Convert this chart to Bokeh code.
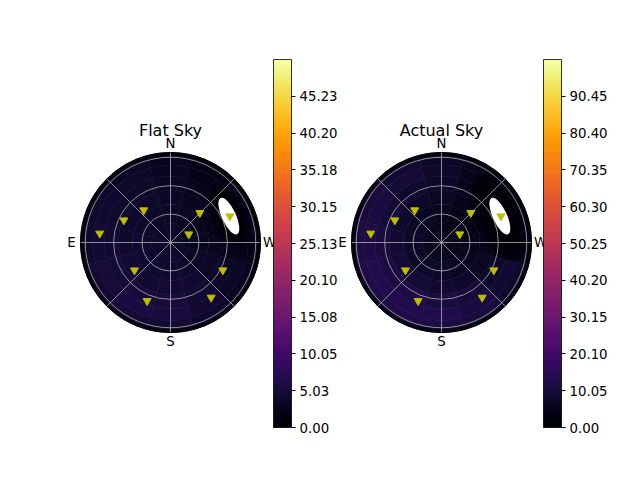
import numpy as np
from bokeh.plotting import figure
from bokeh.models import (ColumnDataSource, LinearColorMapper, ColorBar, FixedTicker,
                          PrintfTickFormatter, Range1d)
from bokeh.palettes import Inferno256
from bokeh.transform import transform
from bokeh.core.properties import value
from bokeh.embed import file_html
from bokeh.resources import INLINE

# ---------------- data ----------------
titles = ["Flat Sky", "Actual Sky"]
cbar_max = [50.26, 100.5]
flat_ticks = [0.00, 5.03, 10.05, 15.08, 20.10, 25.13, 30.15, 35.18, 40.20, 45.23]
actual_ticks = [0.00, 10.05, 20.10, 30.15, 40.20, 50.25, 60.30, 70.35, 80.40, 90.45]

# sky brightness cells: azimuth sector centres (deg, N->E) and zenith-angle ring edges (deg)
az_centers = [0, 30, 60, 90, 120, 150, 180, 210, 240, 270, 300, 330]
zen_edges = [0, 20, 40, 55, 70, 82, 91, 95]

flat_sky = [
    [3.6, 3.7, 3.8, 3.9, 4.0, 4.0, 4.0, 3.9, 3.7, 3.4, 3.3, 3.4],
    [3.6, 3.8, 3.9, 4.0, 4.2, 4.3, 4.3, 4.1, 3.7, 3.1, 2.8, 3.2],
    [3.5, 3.8, 4.0, 4.2, 4.5, 4.7, 4.7, 4.4, 3.7, 2.8, 2.2, 2.8],
    [3.3, 3.8, 4.1, 4.4, 4.8, 5.2, 5.1, 4.6, 3.6, 2.4, 1.5, 2.4],
    [3.1, 3.8, 4.2, 4.6, 5.1, 5.6, 5.4, 4.7, 3.4, 2.2, 1.4, 2.1],
    [2.8, 3.4, 3.8, 4.1, 4.5, 4.8, 4.7, 4.1, 3.0, 2.0, 1.4, 1.9],
    [1.2, 1.4, 1.5, 1.6, 1.7, 1.8, 1.8, 1.6, 1.3, 1.0, 0.8, 0.9],
]
actual_sky = [
    [5.0, 5.2, 5.4, 5.5, 5.6, 5.6, 5.5, 5.3, 5.0, 4.6, 4.4, 4.6],
    [5.6, 6.2, 6.8, 7.2, 7.5, 7.5, 7.2, 6.6, 5.6, 4.6, 4.0, 4.6],
    [6.4, 7.4, 8.4, 9.2, 9.8, 9.8, 9.4, 8.4, 6.6, 4.8, 3.6, 4.8],
    [7.2, 8.6, 9.8, 10.8, 11.6, 11.8, 11.2, 10.0, 7.8, 5.0, 3.0, 5.0],
    [7.8, 9.6, 11.0, 12.2, 13.0, 13.2, 12.6, 11.2, 8.8, 5.6, 3.2, 5.4],
    [7.4, 9.2, 10.6, 11.6, 12.4, 12.6, 12.0, 10.6, 8.4, 5.6, 3.4, 5.2],
    [3.0, 3.6, 4.0, 4.4, 4.6, 4.8, 4.6, 4.2, 3.4, 2.4, 1.6, 2.2],
]

# moon (masked region) and its dark halo levels
moon_zen, moon_az = 67.6, 294.4
moon_radial, moon_tangential = 15.0, 42.0
flat_halo_vals = [2.2, 1.2, 0.5]
flat_halo_radial = [46, 36, 26]
flat_halo_tangential = [82, 66, 54]
actual_halo_vals = [3.0, 1.6, 0.6]
actual_halo_radial = [52, 40, 28]
actual_halo_tangential = [100, 80, 60]

# targets (zenith angle, azimuth)
target_zen = [75.3, 54.6, 44.3, 44.0, 68.5, 21.2, 48.0, 62.5, 66.4, 72.2]
target_az = [82.7, 64.5, 39.6, 315.3, 293.9, 294.4, 127.6, 242.1, 158.2, 216.5]

cardinal_labels = ["N", "E", "S", "W"]
cardinal_az = [0, 90, 180, 270]
grid_zen = [30, 60, 90]
spoke_az = [0, 45, 90, 135, 180, 225, 270, 315]
horizon_zen = 95

# ---------------- layout ----------------
W, H = 640, 480
s = 90.0 / horizon_zen          # px per degree
centers_px = [(170, 242), (441, 242)]
span_x = W / s
span_y = H / s
y_top = centers_px[0][1] / s

p = figure(width=W, height=H, output_backend="svg", toolbar_location=None,
           x_axis_location=None, y_axis_location=None, min_border=0,
           x_range=Range1d(-centers_px[0][0] / s, -centers_px[0][0] / s + span_x),
           y_range=Range1d(y_top - span_y, y_top))
p.extra_x_ranges = {"actual": Range1d(-centers_px[1][0] / s, -centers_px[1][0] / s + span_x)}
p.xgrid.grid_line_color = None
p.ygrid.grid_line_color = None
p.outline_line_color = None
p.background_fill_color = "white"
p.border_fill_color = "white"


def pol(zen, az):
    th = np.radians(90.0 + np.asarray(az, dtype=float))
    z = np.asarray(zen, dtype=float)
    return z * np.cos(th), z * np.sin(th)


panels = [
    ("default", flat_sky, flat_ticks, flat_halo_vals, flat_halo_radial, flat_halo_tangential),
    ("actual", actual_sky, actual_ticks, actual_halo_vals, actual_halo_radial, actual_halo_tangential),
]
cb_x = [273, 543]

for i, (rng, sky, ticks, hv, hr, ht) in enumerate(panels):
    mapper = LinearColorMapper(palette=Inferno256, low=0, high=cbar_max[i])
    # cells
    inner, outer, a0, a1, vals = [], [], [], [], []
    for r in range(len(zen_edges) - 1):
        for c, az in enumerate(az_centers):
            inner.append(zen_edges[r]); outer.append(zen_edges[r + 1])
            a0.append(np.radians(90 + az - 15)); a1.append(np.radians(90 + az + 15))
            vals.append(sky[r][c])
    src = ColumnDataSource(dict(x=[0] * len(vals), y=[0] * len(vals), ir=inner, orr=outer,
                                a0=a0, a1=a1, val=vals))
    p.annular_wedge(x="x", y="y", inner_radius="ir", outer_radius="orr",
                    start_angle="a0", end_angle="a1", source=src,
                    fill_color=transform("val", mapper), line_color=transform("val", mapper),
                    line_width=0.6, x_range_name=rng)
    # halo around the moon
    mx, my = pol([moon_zen], [moon_az])
    ang = float(np.radians(90 + moon_az))
    hsrc = ColumnDataSource(dict(x=[mx[0]] * len(hv), y=[my[0]] * len(hv), w=hr, h=ht, val=hv))
    p.ellipse(x="x", y="y", width="w", height="h", angle=ang, source=hsrc,
              fill_color=transform("val", mapper), line_color=None, x_range_name=rng)
    # masked moon region
    p.ellipse(x=mx, y=my, width=moon_radial, height=moon_tangential, angle=ang,
              fill_color="white", line_color=None, x_range_name=rng)
    # grid
    for gz in grid_zen:
        p.circle(x=0, y=0, radius=gz, fill_color=None, line_color="#b0b0b0",
                 line_width=0.8, x_range_name=rng)
    ex, ey = pol([horizon_zen] * len(spoke_az), spoke_az)
    p.segment(x0=[0] * len(spoke_az), y0=[0] * len(spoke_az), x1=ex, y1=ey,
              line_color="#b0b0b0", line_width=0.8, x_range_name=rng)
    p.circle(x=0, y=0, radius=horizon_zen, fill_color=None, line_color="black",
             line_width=1, x_range_name=rng)
    # targets
    tx, ty = pol(target_zen, target_az)
    p.scatter(x=tx, y=ty, marker="inverted_triangle", size=8, fill_color="#bfbf00",
              line_color="#bfbf00", x_range_name=rng)
    # labels
    lx, ly = pol([104.5] * 4, cardinal_az)
    p.text(x=lx, y=ly, text=cardinal_labels, text_align="center", text_baseline="middle",
           text_font=value("DejaVu Sans"), text_font_size="13.3px", text_color="black",
           x_range_name=rng)
    p.text(x=[0], y=[118.2], text=[titles[i]], text_align="center", text_baseline="alphabetic",
           text_font=value("DejaVu Sans"), text_font_size="16px", text_color="black",
           x_range_name=rng)
    cb = ColorBar(color_mapper=mapper, ticker=FixedTicker(ticks=ticks, minor_ticks=[]),
                  formatter=PrintfTickFormatter(format="%.2f"), width=18, height=368,
                  location=(cb_x[i], 53), padding=0, margin=0,
                  bar_line_color="black", bar_line_width=0.8,
                  major_tick_line_color="black", major_tick_in=0, major_tick_out=4,
                  minor_tick_line_color=None,
                  major_label_text_font="DejaVu Sans", major_label_text_font_size="13.3px",
                  major_label_text_color="black", label_standoff=4,
                  background_fill_alpha=0, border_line_color=None)
    p.add_layout(cb)

open("out.html", "w").write(file_html(p, INLINE))
